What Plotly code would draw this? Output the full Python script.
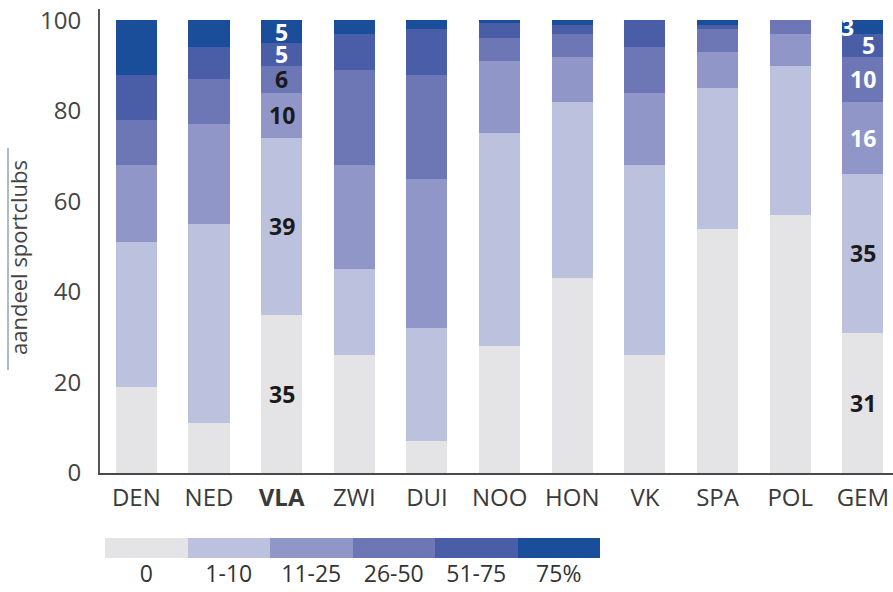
import plotly.graph_objects as go

# ---------------- data ----------------
countries = ["DEN", "NED", "VLA", "ZWI", "DUI", "NOO", "HON", "VK", "SPA", "POL", "GEM"]
country_ticktext = ["DEN", "NED", "<b>VLA</b>", "ZWI", "DUI", "NOO", "HON", "VK", "SPA", "POL", "GEM"]

share_0 = [19, 11, 35, 26, 7, 28, 43, 26, 54, 57, 31]
share_1_10 = [32, 44, 39, 19, 25, 47, 39, 42, 31, 33, 35]
share_11_25 = [17, 22, 10, 23, 33, 16, 10, 16, 8, 7, 16]
share_26_50 = [10, 10, 6, 21, 23, 5, 5, 10, 5, 3, 10]
share_51_75 = [10, 7, 5, 8, 10, 3.5, 2, 6, 1, 0, 5]
share_75 = [12, 6, 5, 3, 2, 0.5, 1, 0, 1, 0, 3]

class_labels = ["0", "1-10", "11-25", "26-50", "51-75", "75%"]
class_colors = ["#e4e4e6", "#bcc1dd", "#9097c8", "#6d77b5", "#4a5ea8", "#1a4e9b"]

y_ticks = [0, 20, 40, 60, 80, 100]
y_title = "aandeel sportclubs"

labelled_countries = ["VLA", "GEM"]
label_colors = {
    "VLA": ["#1a1a1a", "#1a1a1a", "#1a1a1a", "#1a1a1a", "white", "white"],
    "GEM": ["#1a1a1a", "#1a1a1a", "white", "white", "white", "white"],
}

series = [share_0, share_1_10, share_11_25, share_26_50, share_51_75, share_75]

# ---------------- figure ----------------
W, H = 893, 592
ML, MR, MT, MB = 100, 0, 9, 4
PW, PH = W - ML - MR, H - MT - MB


def px_to_py(py):
    return (H - MB - py) / PH


def px_to_px(px):
    return (px - ML) / PW


fig = go.Figure()

for vals, name, col in zip(series, class_labels, class_colors):
    fig.add_trace(go.Bar(
        x=countries, y=vals, name=name, marker=dict(color=col, line=dict(width=0)),
        width=0.565, xaxis="x", yaxis="y", showlegend=False, hoverinfo="skip",
    ))

# colour key drawn as a second small bar chart
fig.add_trace(go.Bar(
    x=class_labels, y=[1] * len(class_labels), width=1,
    marker=dict(color=class_colors, line=dict(width=0)),
    xaxis="x2", yaxis="y2", showlegend=False, hoverinfo="skip",
))

# value labels
annotations = []
for c in labelled_countries:
    i = countries.index(c)
    base = 0
    for k, vals in enumerate(series):
        v = vals[i]
        mid = base + v / 2
        base += v
        xshift = 0
        if c == "GEM" and k == 5:
            xshift = -15
        if c == "GEM" and k == 4:
            xshift = 6
        annotations.append(dict(
            x=c, y=mid, xref="x", yref="y", text=f"<b>{v:g}</b>", showarrow=False,
            xshift=xshift,
            font=dict(family="Open Sans", size=23, color=label_colors[c][k]),
        ))

# y title
annotations.append(dict(
    x=px_to_px(18), y=px_to_py(258), xref="paper", yref="paper", text=y_title,
    showarrow=False, textangle=-90, xanchor="center", yanchor="middle",
    font=dict(family="Open Sans", size=22, color="#444444"),
))

fig.update_layout(
    width=W, height=H,
    margin=dict(l=ML, r=MR, t=MT, b=MB, autoexpand=False),
    paper_bgcolor="white", plot_bgcolor="white",
    barmode="stack",
    annotations=annotations,
    shapes=[dict(
        type="line", xref="paper", yref="paper",
        x0=px_to_px(8), x1=px_to_px(8), y0=px_to_py(370), y1=px_to_py(148),
        line=dict(color="#a9bdc9", width=2),
    )],
    xaxis=dict(
        domain=[0, 1], type="category", range=[-0.5, 10.415], automargin=False,
        tickvals=countries, ticktext=country_ticktext,
        showgrid=False, zeroline=False,
        showline=True, linecolor="#4a4a4a", linewidth=2, layer="below traces",
        ticks="outside", ticklen=2, tickcolor="rgba(0,0,0,0)",
        tickfont=dict(family="Open Sans", size=24, color="#3a3a3a"),
        fixedrange=True,
    ),
    yaxis=dict(
        domain=[px_to_py(473), 1], range=[0, 102.5], automargin=False,
        tickvals=y_ticks, showgrid=False, zeroline=False,
        showline=True, linecolor="#555555", linewidth=2,
        ticks="outside", ticklen=12, tickcolor="rgba(0,0,0,0)",
        tickfont=dict(family="Open Sans", size=24, color="#444444"),
        fixedrange=True,
    ),
    xaxis2=dict(
        domain=[px_to_px(105), px_to_px(600)], anchor="y2", type="category",
        range=[-0.5, 5.5], showgrid=False, zeroline=False, showline=False, automargin=False,
        ticks="", tickcolor="rgba(0,0,0,0)",
        tickfont=dict(family="Open Sans", size=23, color="#333333"),
        fixedrange=True,
    ),
    yaxis2=dict(
        domain=[px_to_py(558), px_to_py(538)], anchor="x2", range=[0, 1], automargin=False,
        showticklabels=False, showgrid=False, zeroline=False, showline=False,
        fixedrange=True,
    ),
)

fig.write_html(
    "out.html",
    config={"displayModeBar": False},
    post_script="document.body.style.margin='0';document.body.style.padding='0';",
)
